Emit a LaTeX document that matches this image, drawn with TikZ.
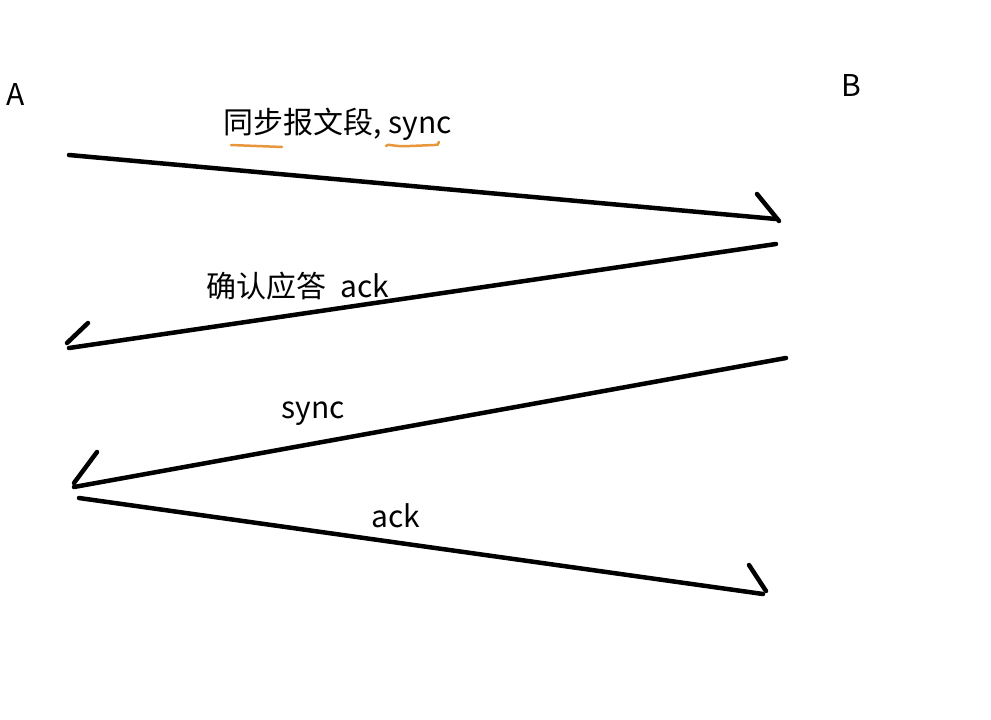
\documentclass[tikz,border=0pt]{standalone}
\usepackage{fontspec}
\setmainfont{Noto Sans CJK SC}
\definecolor{penorange}{RGB}{232,150,60}
\begin{document}
\begin{tikzpicture}[x=1pt,y=-1pt,
    msg/.style = {draw=black,line width=4.5pt,line cap=round},
    uline/.style = {draw=penorange,line width=2.5pt,line cap=round},
    lbl/.style = {inner sep=0pt,font=\fontsize{30}{34}\selectfont}]
\useasboundingbox (0,0) rectangle (991,720);
\node[lbl] (A) at (16,95) {A};
\node[lbl] (B) at (851,86) {B};
\node[lbl] (t1) at (338,124) {同步报文段, sync};
\node[lbl] (t2) at (298,286) {确认应答\ \ ack};
\node[lbl] (t3) at (313,414) {sync};
\node[lbl] (t4) at (396,516) {ack};
% message ends
\coordinate (s1) at (69,155);  \coordinate (e1) at (776,219);
\coordinate (s2) at (776,244); \coordinate (e2) at (69,348);
\coordinate (s3) at (786,358); \coordinate (e3) at (74,487);
\coordinate (s4) at (79,498);  \coordinate (e4) at (763,594);
\draw[msg] (s1) -- (e1);
\draw[msg] (s2) -- (e2);
\draw[msg] (s3) -- (e3);
\draw[msg] (s4) -- (e4);
% half arrow heads
\draw[msg] (757,194) -- (779,221);
\draw[msg] (88,323) -- (67,343);
\draw[msg] (97,452) -- (74,483);
\draw[msg] (749,565) -- (766,591);
% underlines
\draw[uline] (231,145) -- (282,147);
\draw[uline] (386,146) .. controls (388,143) and (392,147) .. (410,146) -- (434,145) .. controls (438,145) .. (439,142);
\end{tikzpicture}
\end{document}
